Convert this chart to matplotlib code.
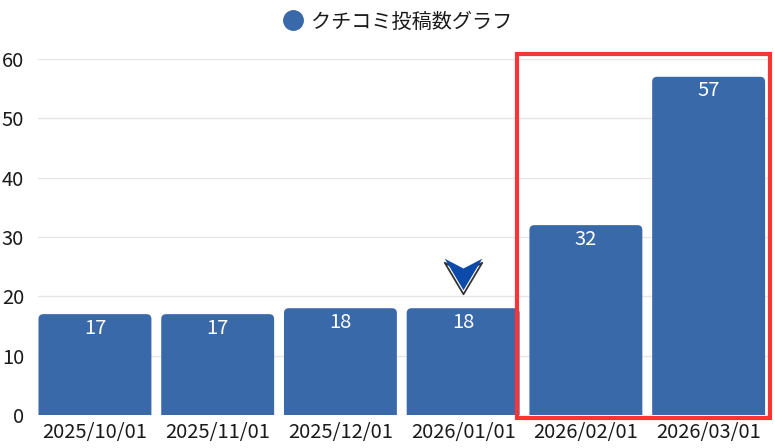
import matplotlib
matplotlib.use("Agg")
import matplotlib.pyplot as plt
from matplotlib.patches import FancyBboxPatch, Rectangle
from matplotlib.lines import Line2D
from matplotlib.path import Path

plt.rcParams['font.family'] = ['Noto Sans CJK JP', 'DejaVu Sans']

months = ['2025/10/01', '2025/11/01', '2025/12/01', '2026/01/01', '2026/02/01', '2026/03/01']
counts = [17, 17, 18, 18, 32, 57]
series_name = 'クチコミ投稿数グラフ'
y_ticks = [0, 10, 20, 30, 40, 50, 60]
marked = 3            # chevron above this month
highlight = [4, 5]    # months inside the red box

blue = '#3a69aa'
red = '#f83434'

W, H = 775, 448
fig = plt.figure(figsize=(W / 100, H / 100), dpi=100)
ax = fig.add_axes([38 / W, (H - 415) / H, 732 / W, 356 / H])

x = list(range(len(months)))
bars = ax.bar(x, counts, width=0.92, color=blue)
# swap the plain bars for ones with rounded tops
aspect = (732 / 5.964) / (356 / 60)
for b in bars:
    b.set_visible(False)
    p = FancyBboxPatch((b.get_x(), -2), b.get_width(), b.get_height() + 2,
                       boxstyle='round,pad=0,rounding_size=0.04',
                       mutation_aspect=aspect, fc=blue, ec='none', zorder=2)
    ax.add_patch(p)
    ax.annotate(str(int(b.get_height())), (b.get_x() + b.get_width() / 2, b.get_height()),
                xytext=(0, -10), textcoords='offset points', ha='center', va='center',
                color='white', fontsize=14.5, zorder=3)

ax.set_xlim(-0.464, 5.5)
ax.set_ylim(0, 60)
ax.set_yticks(y_ticks)
ax.set_xticks(x)
ax.set_xticklabels(months)
ax.tick_params(length=0, labelsize=14.5, colors='#1a1a1a')
ax.tick_params(axis='y', pad=10)
ax.tick_params(axis='x', pad=5)
for s in ax.spines.values():
    s.set_visible(False)
ax.grid(axis='y', color='#e6e6e6', lw=1)
ax.set_axisbelow(True)

# chevron marker over the marked month
chev = Path([(-1, 0.84), (0, 0.32), (1, 0.84), (0, -0.84), (-1, 0.84)],
            [Path.MOVETO, Path.LINETO, Path.LINETO, Path.LINETO, Path.CLOSEPOLY])
ax.plot(marked, counts[marked] + 5.1, marker=chev, markersize=27, mfc='white',
        mec='#333333', mew=1.3, ls='', zorder=4, clip_on=False)
ax.plot(marked, counts[marked] + 5.8, marker=chev, markersize=27, mfc='#0b4aa8',
        mec='none', ls='', zorder=5, clip_on=False)

# red box around the highlighted months
rect = Rectangle((highlight[0] - 0.56, -0.5), highlight[-1] - highlight[0] + 1.06, 61.4,
                 fill=False, ec=red, lw=3, clip_on=False, zorder=6)
ax.add_patch(rect)

handle = Line2D([], [], marker='o', ls='', color=blue, markersize=14)
fig.legend([handle], [series_name], loc='center', bbox_to_anchor=(397 / W, 1 - 22 / H),
           frameon=False, fontsize=14.5, handletextpad=0.3, handlelength=1.2,
           labelcolor='#1a1a1a')

fig.savefig('out.png', dpi=100)
